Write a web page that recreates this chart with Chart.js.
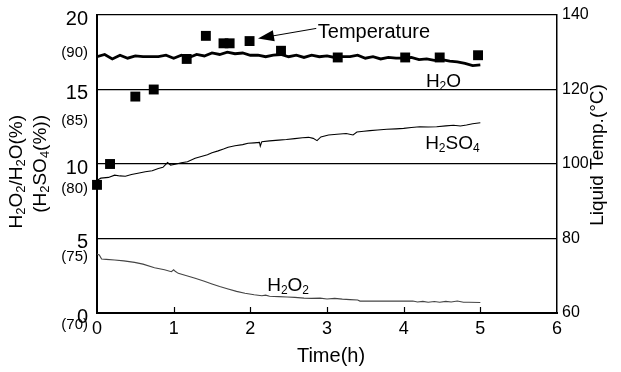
<!DOCTYPE html>
<html>
<head>
<meta charset="utf-8">
<script src="https://cdn.jsdelivr.net/npm/chart.js@4.4.0/dist/chart.umd.min.js"></script>
<style>
  html, body { margin: 0; padding: 0; background: #fff; }
  #wrap { width: 621px; height: 372px; }
</style>
</head>
<body>
<div id="wrap"><canvas id="chart"></canvas></div>
<script>
// time axis (h) and series
const h2oTime = [0,0.1,0.2,0.3,0.4,0.5,0.6,0.7,0.8,0.9,1.0,1.1,1.2,1.3,1.4,1.5,1.6,1.7,1.8,1.9,2.0,
  2.1,2.2,2.3,2.4,2.5,2.6,2.7,2.8,2.9,3.0,3.1,3.2,3.3,3.4,3.5,3.6,3.7,3.8,3.9,4.0,
  4.1,4.2,4.3,4.4,4.5,4.6,4.7,4.8,4.9,5.0];
const h2oPct = [17.2,17.35,17.05,17.3,17.1,17.25,17.2,17.2,17.2,17.3,17.1,17.3,17.15,17.35,17.25,17.45,17.35,17.5,17.4,17.45,17.3,
  17.3,17.2,17.3,17.35,17.2,17.3,17.15,17.3,17.2,17.25,17.15,17.2,17.2,17.3,17.1,17.2,17.05,17.15,17.1,17.1,
  17.15,17.0,17.05,16.95,17.0,16.9,16.85,16.75,16.6,16.65];

const h2so4Time = [0,0.05,0.15,0.23,0.3,0.37,0.45,0.55,0.63,0.72,0.8,0.86,0.92,0.96,1.02,1.1,1.18,1.28,1.36,1.44,
  1.5,1.58,1.65,1.71,1.8,1.9,1.97,2.05,2.12,2.13,2.15,2.25,2.37,2.47,2.58,2.68,2.76,2.82,2.87,2.92,
  3.02,3.13,3.25,3.34,3.39,3.48,3.56,3.66,3.78,3.9,4.0,4.1,4.21,4.32,4.43,4.55,4.65,4.74,4.82,4.9,5.0];
const h2so4Pct = [8.9,9.05,9.1,9.25,9.2,9.18,9.3,9.4,9.48,9.55,9.7,9.78,10.1,9.93,9.98,10.08,10.15,10.38,10.5,10.62,
  10.76,10.88,11.0,11.12,11.22,11.3,11.39,11.42,11.45,11.2,11.5,11.55,11.6,11.64,11.7,11.76,11.79,11.72,11.57,11.82,
  11.95,12.0,12.05,11.95,12.15,12.2,12.24,12.28,12.33,12.36,12.39,12.45,12.5,12.48,12.5,12.56,12.6,12.55,12.62,12.7,12.77];

const h2o2Time = [0,0.03,0.06,0.12,0.23,0.35,0.49,0.6,0.75,0.88,0.97,1.0,1.02,1.06,1.17,1.28,1.4,1.5,1.6,1.71,
  1.82,1.93,2.05,2.15,2.2,2.25,2.37,2.48,2.58,2.7,2.8,2.91,3.0,3.1,3.2,3.3,3.4,3.43,3.6,3.78,
  3.95,4.12,4.18,4.25,4.32,4.4,4.47,4.55,4.62,4.7,4.78,4.85,5.0];
const h2o2Pct = [3.95,3.9,3.62,3.6,3.56,3.5,3.4,3.28,3.04,2.9,2.77,2.9,2.8,2.66,2.5,2.33,2.13,1.95,1.78,1.61,
  1.45,1.32,1.22,1.16,1.2,1.12,1.1,1.07,1.05,1.0,0.98,1.0,0.94,0.98,0.93,0.9,0.87,0.8,0.8,0.8,
  0.8,0.8,0.74,0.78,0.72,0.77,0.72,0.78,0.74,0.8,0.72,0.72,0.7];

const tempTime = [0,0.17,0.5,0.74,1.17,1.42,1.65,1.73,1.99,2.4,3.14,4.02,4.47,4.97];
const tempC = [94.4,100,118.1,120,128.2,134.4,132.4,132.4,133,130.4,128.6,128.6,128.6,129.2];

const xTicks = [0,1,2,3,4,5,6];
const leftTicks = [0,5,10,15,20];
const rightTicks = [60,80,100,120,140];
const sulfTicks = [70,75,80,85,90];

const FONT = 'Arial, "Liberation Sans", sans-serif';

const pts = (xs, ys) => xs.map((x, i) => ({ x, y: ys[i] }));

// draws text where digits become subscripts (chemical formulas)
function chemParts(str) {
  return str.split(/(\d)/).filter(s => s).map(s => [s, /\d/.test(s)]);
}
function partsWidth(ctx, parts, size, sub) {
  let w = 0;
  parts.forEach(([s, isSub]) => {
    ctx.font = `${isSub ? sub : size}px ${FONT}`;
    w += ctx.measureText(s).width;
  });
  return w;
}
function drawParts(ctx, parts, x, y, size, sub) {
  ctx.textAlign = 'left';
  ctx.textBaseline = 'alphabetic';
  parts.forEach(([s, isSub]) => {
    ctx.font = `${isSub ? sub : size}px ${FONT}`;
    ctx.fillText(s, x, y + (isSub ? size * 0.16 : 0));
    x += ctx.measureText(s).width;
  });
}

// keep the plot box where the figure has it
const noPad = s => { s.paddingTop = 0; s.paddingBottom = 0; s.paddingLeft = 0; s.paddingRight = 0; };

const decorPlugin = {
  id: "decor",
  afterDraw(chart) {
    const { ctx, chartArea: a, scales } = chart;
    const { x, y, y2, ys } = scales;
    ctx.save();
    ctx.fillStyle = "#000";
    ctx.strokeStyle = "#000";

    // inward x ticks
    ctx.lineWidth = 1.2;
    xTicks.slice(1, -1).forEach(v => {
      const px = Math.round(x.getPixelForValue(v)) + 0.5;
      ctx.beginPath();
      ctx.moveTo(px, a.bottom);
      ctx.lineTo(px, a.bottom - 6);
      ctx.stroke();
    });

    // secondary (H2SO4) labels on the left
    ctx.font = `15px ${FONT}`;
    ctx.textAlign = "right";
    ctx.textBaseline = "middle";
    sulfTicks.forEach(v => ctx.fillText(`(${v})`, 88, ys.getPixelForValue(v)));

    // series labels
    [["H2O", 4.29, 15.2], ["H2SO4", 4.28, 11.0], ["H2O2", 2.22, 1.5]].forEach(([t, tx, ty]) => {
      drawParts(ctx, chemParts(t), x.getPixelForValue(tx), y.getPixelForValue(ty), 19, 12);
    });

    // Temperature annotation with arrow
    ctx.font = `20px ${FONT}`;
    ctx.textAlign = "left";
    ctx.textBaseline = "alphabetic";
    ctx.fillText("Temperature", x.getPixelForValue(2.88), y.getPixelForValue(18.46));
    const x0 = x.getPixelForValue(2.86), y0 = y2.getPixelForValue(136.4);
    const x1 = x.getPixelForValue(2.1), y1 = y2.getPixelForValue(133.7);
    const ang = Math.atan2(y1 - y0, x1 - x0);
    ctx.lineWidth = 1;
    ctx.beginPath();
    ctx.moveTo(x0, y0);
    ctx.lineTo(x1 - 12 * Math.cos(ang), y1 - 12 * Math.sin(ang));
    ctx.stroke();
    ctx.beginPath();
    ctx.moveTo(x1, y1);
    ctx.lineTo(x1 - 16 * Math.cos(ang) + 5.5 * Math.sin(ang), y1 - 16 * Math.sin(ang) - 5.5 * Math.cos(ang));
    ctx.lineTo(x1 - 16 * Math.cos(ang) - 5.5 * Math.sin(ang), y1 - 16 * Math.sin(ang) + 5.5 * Math.cos(ang));
    ctx.closePath();
    ctx.fill();

    // axis titles
    ctx.font = `20px ${FONT}`;
    ctx.textAlign = "center";
    ctx.textBaseline = "alphabetic";
    ctx.fillText("Time(h)", 331, 362);

    ctx.save();
    ctx.translate(598, 155);
    ctx.rotate(-Math.PI / 2);
    ctx.font = `19px ${FONT}`;
    ctx.textAlign = "center";
    ctx.textBaseline = "middle";
    ctx.fillText("Liquid Temp.(\u00B0C)", 0, 0);
    ctx.restore();

    [["H2O2/H2O(%)", 15], ["(H2SO4(%))", 39]].forEach(([t, cx]) => {
      const parts = chemParts(t);
      const w = partsWidth(ctx, parts, 19, 13);
      ctx.save();
      ctx.translate(cx, 115);
      ctx.rotate(-Math.PI / 2);
      drawParts(ctx, parts, -w, 19 * 0.36, 19, 13);
      ctx.restore();
    });

    ctx.restore();
  }
};

new Chart(document.getElementById("chart"), {
  type: "line",
  data: {
    datasets: [
      { label: "H2O", data: pts(h2oTime, h2oPct), borderColor: "#000", borderWidth: 2.8, pointRadius: 0, yAxisID: "y" },
      { label: "H2SO4", data: pts(h2so4Time, h2so4Pct), borderColor: "#000", borderWidth: 1.1, pointRadius: 0, yAxisID: "y" },
      { label: "H2O2", data: pts(h2o2Time, h2o2Pct), borderColor: "#444", borderWidth: 1.1, pointRadius: 0, yAxisID: "y" },
      { label: "Temperature", data: pts(tempTime, tempC), showLine: false, pointStyle: "rect", pointRadius: 7,
        backgroundColor: "#000", borderColor: "#000", borderWidth: 0, yAxisID: "y2", clip: false }
    ]
  },
  options: {
    responsive: true,
    maintainAspectRatio: false,
    animation: false,
    layout: { padding: { top: 15, left: 0, right: 0, bottom: 0 } },
    plugins: { legend: { display: false }, tooltip: { enabled: false } },
    scales: {
      x: {
        type: "linear", min: 0, max: 6,
        afterFit: s => { s.height = 59; noPad(s); },
        afterBuildTicks: s => { s.ticks = xTicks.map(v => ({ value: v })); },
        grid: { display: false, drawTicks: false },
        border: { color: "#000", width: 2 },
        ticks: { color: "#000", font: { family: FONT, size: 18 }, padding: 5, maxRotation: 0 }
      },
      y: {
        position: "left", min: 0, max: 20,
        afterFit: s => { s.width = 97; noPad(s); },
        afterBuildTicks: s => { s.ticks = leftTicks.map(v => ({ value: v })); },
        grid: { color: "#000", lineWidth: 1.2, drawTicks: false },
        border: { color: "#000", width: 2 },
        ticks: { color: "#000", font: { family: FONT, size: 20 }, padding: 9, labelOffset: 4 }
      },
      y2: {
        position: "right", min: 60, max: 140,
        afterFit: s => { s.width = 64; noPad(s); },
        afterBuildTicks: s => { s.ticks = rightTicks.map(v => ({ value: v })); },
        grid: { drawOnChartArea: false, drawTicks: false },
        border: { color: "#000", width: 1.5 },
        ticks: { color: "#000", font: { family: FONT, size: 16 }, padding: 5 }
      },
      ys: { display: false, position: "left", min: 70.88, max: 92.8 }
    }
  },
  plugins: [decorPlugin]
});
</script>
</body>
</html>
